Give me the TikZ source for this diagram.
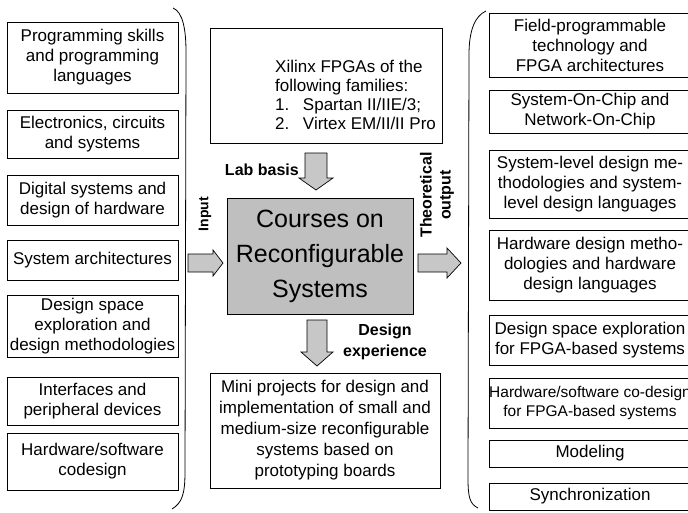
\documentclass[tikz,border=0pt]{standalone}
\usepackage{fontspec}
\setmainfont{Liberation Sans}
\newcommand\txt{\fontsize{17}{20}\selectfont}
\newcommand\smalltxt{\fontsize{15.5}{19}\selectfont}
\newcommand\bigtxt{\fontsize{25}{35}\selectfont}
\newcommand\lbl{\fontsize{16}{19}\selectfont\bfseries}
\begin{document}
\begin{tikzpicture}[x=1pt,y=-1pt,
  box/.style={draw, line width=0.8pt, inner sep=0pt, align=center, font=\txt},
  lbox/.style={box, minimum width=171pt},
  rbox/.style={box, minimum width=202pt},
  label/.style={inner sep=0pt, align=center, font=\lbl},
  blockfill/.style={draw, line width=0.7pt, fill=black!22},
  pics/barrow/.style n args={4}{code={%
    \draw[blockfill] (0,-#2) -- (#1-#4,-#2) -- (#1-#4,-#3) -- (#1,0)
      -- (#1-#4,#3) -- (#1-#4,#2) -- (0,#2) -- cycle;}}]
\useasboundingbox (0,0) rectangle (688,512);
\clip (0,0) rectangle (688,512);

% prerequisites (left column)
\node[lbox, minimum height=71pt] (l1) at (92.5,57.5) {Programming skills\\and programming\\languages};
\node[lbox, minimum height=48pt] (l2) at (92.5,134) {Electronics, circuits\\and systems};
\node[lbox, minimum height=50pt] (l3) at (92.5,200) {Digital systems and\\design of hardware};
\node[lbox, minimum height=40pt] (l4) at (92.5,260) {System architectures};
\node[lbox, minimum height=62pt] (l5) at (92.5,326) {Design space\\exploration and\\design methodologies};
\node[lbox, minimum height=48pt] (l6) at (92.5,401) {Interfaces and\\peripheral devices};
\node[lbox, minimum height=57pt] (l7) at (92.5,461.5) {Hardware/software\\codesign};

% left brace
\draw[line width=0.8pt] (173,8) .. controls (183,12) and (186,30) .. (186,52)
  -- (185,472) .. controls (185,494) and (182,503) .. (172,509);

% topics (right column)
\node[rbox, minimum height=64pt] (r1) at (590,45) {Field-programmable\\technology and\\FPGA architectures};
\node[rbox, minimum height=43pt] (r2) at (590,111.5) {System-On-Chip and\\Network-On-Chip};
\node[rbox, minimum height=68pt] (r3) at (590,184) {System-level design me-\\thodologies and system-\\level design languages};
\node[rbox, minimum height=70pt] (r4) at (590,265) {Hardware design metho-\\dologies and hardware\\design languages};
\node[rbox, minimum height=50pt] (r5) at (590,340) {Design space exploration\\for FPGA-based systems};
\node[rbox, minimum height=50pt, font=\smalltxt] (r6) at (590,403) {Hardware/software co-design\\for FPGA-based systems};
\node[rbox, minimum height=27pt] (r7) at (590,453.5) {Modeling};
\node[rbox, minimum height=27pt] (r8) at (590,496.5) {Synchronization};

% right brace
\draw[line width=0.8pt] (486,11) .. controls (475,16) and (469,30) .. (469,55)
  -- (468,478) .. controls (468,498) and (470,504) .. (478,508);

% centre column
\node[box, minimum width=232pt, minimum height=115pt] (fpga) at (326,85.5) {};
\node[anchor=west, inner sep=0pt, align=left, font=\fontsize{17}{19}\selectfont] (fpgatxt) at (275,95)
  {Xilinx FPGAs of the\\following families:\\1.\hspace{0.8em}Spartan II/IIE/3;\\2.\hspace{0.8em}Virtex EM/II/II Pro};

\node[box, minimum width=186pt, minimum height=116pt, fill=black!25, font=\bigtxt] (course) at (320,256)
  {Courses on\\Reconfigurable\\Systems};

\node[box, minimum width=230pt, minimum height=115pt, font=\fontsize{17}{21}\selectfont] (mini) at (325,430.5)
  {Mini projects for design and\\implementation of small and\\medium-size reconfigurable\\systems based on\\prototyping boards};

% block arrows
\pic[rotate=-90] at (316,153) {barrow={37}{11}{17}{12}};
\pic[rotate=-90] at (317,320) {barrow={46}{10}{16}{14}};
\pic at (188,263) {barrow={35}{9}{13}{10}};
\pic at (418,263) {barrow={43}{9}{15}{14}};

% arrow labels
\node[label, anchor=east] (lab) at (299,170) {Lab basis};
\node[label, rotate=90, font=\fontsize{14}{17}\selectfont\bfseries] (inp) at (205,214) {Input};
\node[label, rotate=90] (theo) at (437,195) {Theoretical\\output};
\node[label, font=\fontsize{16}{21}\selectfont\bfseries] (dexp) at (385,342) {Design\\experience};
\end{tikzpicture}
\end{document}
